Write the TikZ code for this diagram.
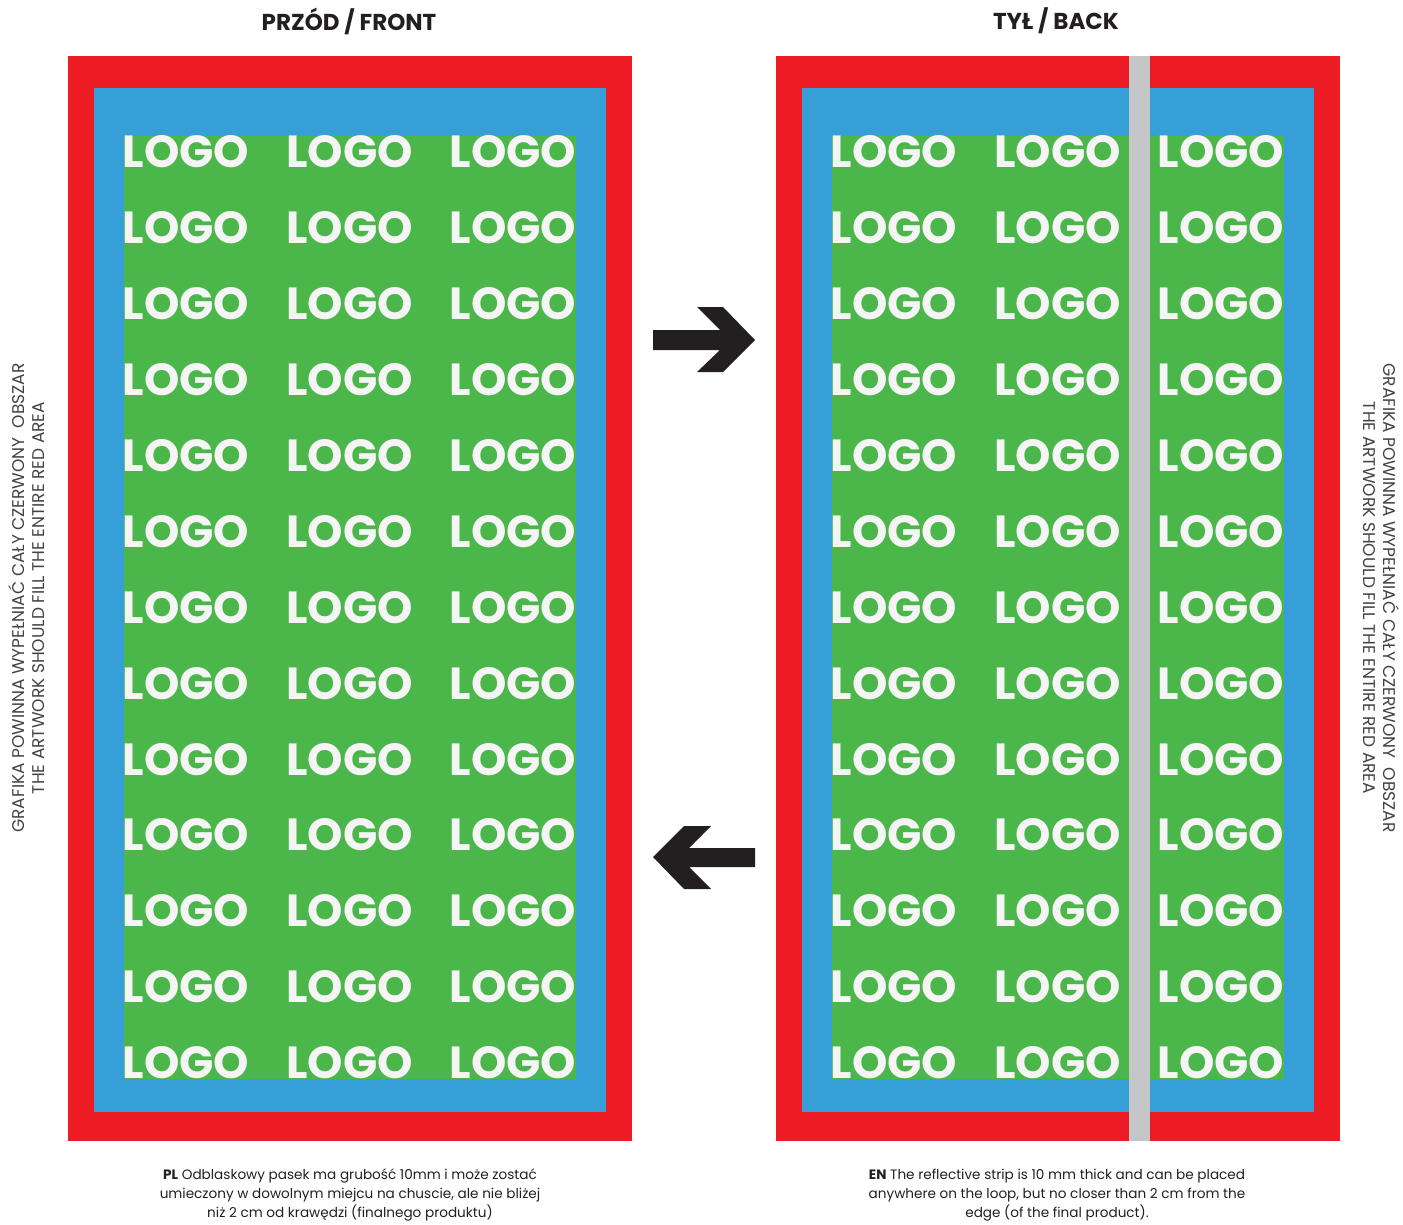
\documentclass[tikz,border=0pt]{standalone}
\usepackage{fontspec}
\setmainfont{Poppins}
\usepackage{xcolor}

\definecolor{bandred}{HTML}{ED1C24}
\definecolor{bandblue}{HTML}{379FD7}
\definecolor{bandgreen}{HTML}{4BB64A}
\definecolor{stripgrey}{HTML}{C4C6C8}
\definecolor{inkblack}{HTML}{231F20}
\definecolor{logowhite}{HTML}{F5F5F5}

\begin{document}
\begin{tikzpicture}[x=1pt,y=-1pt,
    logo/.style={inner sep=0pt,text=logowhite,font=\fontsize{45}{45}\selectfont\bfseries},
    title/.style={inner sep=0pt,text=inkblack,font=\fontsize{23}{23}\selectfont\bfseries},
    note/.style={inner sep=0pt,text=inkblack,align=center,font=\fontsize{13.6}{19}\selectfont},
    side/.style={inner sep=0pt,text=inkblack!85,align=center,font=\fontsize{17}{20}\selectfont}]
    \useasboundingbox (0,0) rectangle (1403,1225);

    % titles
    \node[title] (fronttitle) at (349,21) {PRZÓD / FRONT};
    \node[title] (backtitle) at (1056,21) {TYŁ / BACK};

    % front panel
    \fill[bandred] (68,56) rectangle (632,1141);
    \fill[bandblue] (94,88) rectangle (606,1112);
    \fill[bandgreen] (124,136) rectangle (576,1079);

    % back panel
    \fill[bandred] (776,56) rectangle (1340,1141);
    \fill[bandblue] (802,88) rectangle (1314,1112);
    \fill[bandgreen] (832,136) rectangle (1284,1079);

    \foreach \r in {0,...,12}{
        \foreach \c/\x in {1/186,2/349.5,3/513}{
            \node[logo] (front-\r-\c) at (\x,{152+75.9*\r}) {LOGO};
            \node[logo] (back-\r-\c) at (\x+708,{152+75.9*\r}) {LOGO};
        }
    }

    % reflective strip
    \fill[stripgrey] (1129,56) rectangle (1150,1141);

    % arrows
    \fill[inkblack] (653,330) -- (720,330) -- (697,307) -- (723,307) -- (755,340)
        -- (723,372) -- (697,372) -- (720,350) -- (653,350) -- cycle;
    \fill[inkblack] (755,848) -- (689,848) -- (711,826) -- (684,826) -- (653,857)
        -- (684,889) -- (711,889) -- (689,867) -- (755,867) -- cycle;

    % side notes
    \node[side,rotate=90] (leftnote) at (27,598)
        {GRAFIKA POWINNA WYPEŁNIAĆ CAŁY CZERWONY~ OBSZAR\\THE ARTWORK SHOULD FILL THE ENTIRE RED AREA};
    \node[side,rotate=-90] (rightnote) at (1381,598)
        {GRAFIKA POWINNA WYPEŁNIAĆ CAŁY CZERWONY~ OBSZAR\\THE ARTWORK SHOULD FILL THE ENTIRE RED AREA};

    % bottom notes
    \node[note] (plnote) at (350,1195)
        {\textbf{PL} Odblaskowy pasek ma grubość 10mm i może zostać\\umieczony w dowolnym miejcu na chuscie, ale nie bliżej\\niż 2 cm od krawędzi (finalnego produktu)};
    \node[note] (ennote) at (1057,1195)
        {\textbf{EN} The reflective strip is 10 mm thick and can be placed\\anywhere on the loop, but no closer than 2 cm from the\\edge (of the final product).};
\end{tikzpicture}
\end{document}
